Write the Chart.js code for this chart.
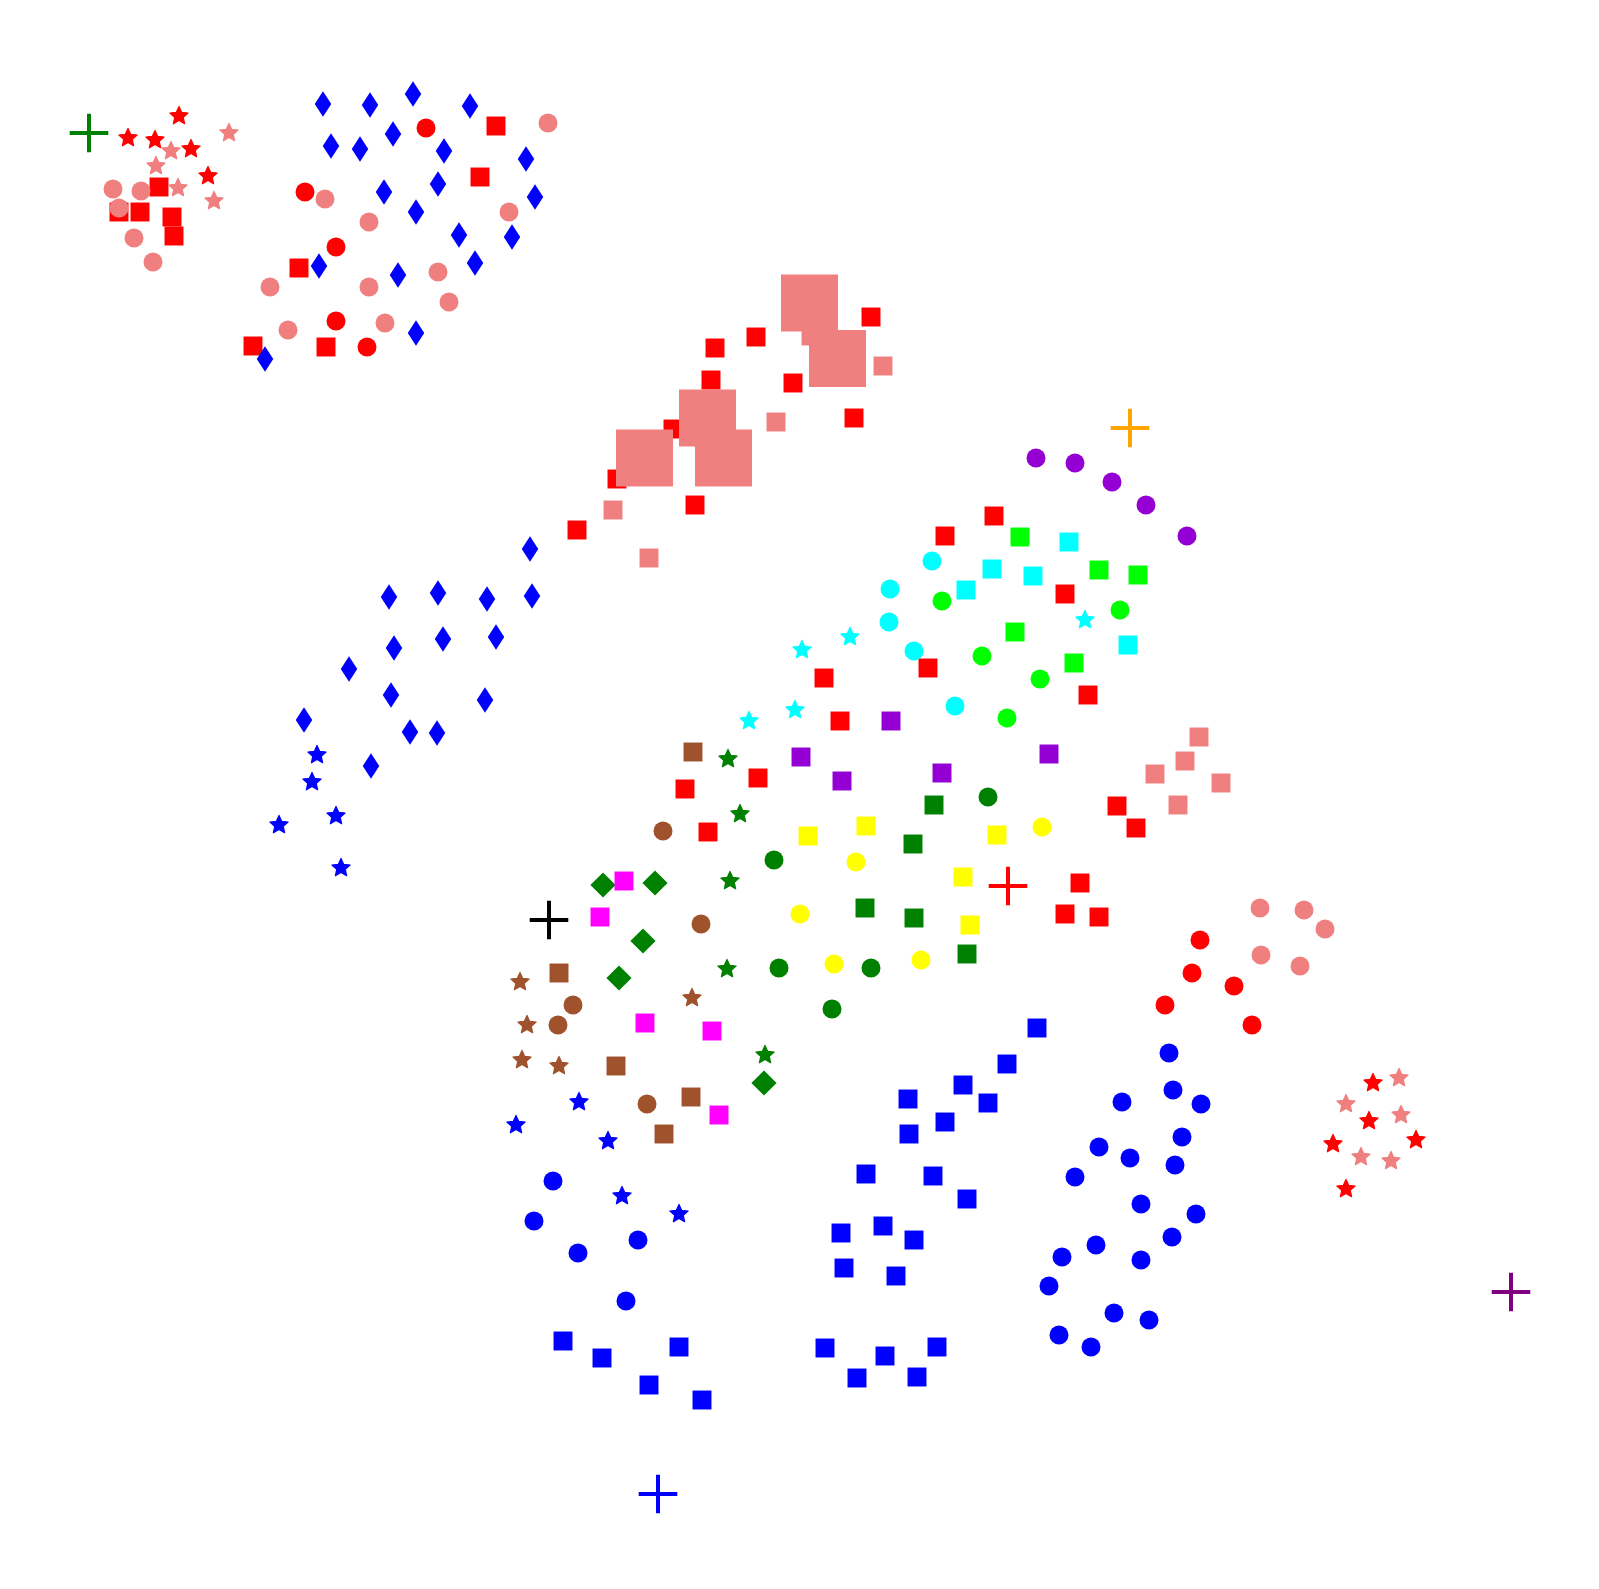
<!DOCTYPE html>
<html><head><meta charset="utf-8">
<script src="https://cdn.jsdelivr.net/npm/chart.js@4.4.1/dist/chart.umd.min.js"></script>
<style>html,body{margin:0;padding:0;background:#fff}#wrap{width:1599px;height:1589px;position:relative}</style>
</head><body><div id="wrap"><canvas id="c"></canvas></div>
<script>
// ---- Data (x, y in the plot's own units; y grows downward) ----
const redStars = [[128,138],[155,140],[179,116],[191,149],[208,176],[1373,1083],[1369,1121],[1333,1144],[1416,1140],[1346,1189]];
const coralStars = [[229,133],[171,151],[156,166],[178,188],[214,201],[1399,1078],[1346,1104],[1401,1115],[1361,1157],[1391,1161]];
const redCircles = [[426,128],[305,192],[336,247],[336,321],[367,347],[1200,940],[1192,973],[1234,986],[1165,1005],[1252,1025]];
const coralCircles = [[113,189],[141,191],[119,208],[134,238],[153,262],[548,123],[325,199],[369,222],[509,212],[270,287],[369,287],[438,272],[449,302],[288,330],[385,323],[1260,908],[1304,910],[1325,929],[1261,955],[1300,966]];
const redSquares = [[119,212],[140,212],[159,187],[172,217],[174,236],[496,126],[480,177],[299,268],[253,346],[326,347],
  [715,348],[756,337],[871,317],[711,380],[793,383],[854,418],[673,429],[617,479],[695,505],[577,530],[945,536],
  [994,516],[1065,594],[824,678],[928,668],[840,721],[1088,695],[685,789],[758,778],[708,832],
  [1117,806],[1136,828],[1080,883],[1065,914],[1099,917]];
const coralSquares = [[883,366],[776,422],[613,510],[649,558],[811,336],[1199,737],[1185,761],[1155,774],[1221,783],[1178,805]];
const coralBigSquares = [[809.5,303],[837.5,358.5],[707.5,418],[644.5,458],[723.5,458]];
const blueDiamonds = [[323,104],[370,105],[413,94],[470,106],[331,146],[360,149],[393,134],[444,151],[526,159],[384,192],[438,184],[535,197],[416,212],[459,235],[512,237],[475,263],[319,266],[398,275],[416,333],[265,359],
  [530,549],[389,597],[438,593],[487,599],[532,596],[394,648],[443,639],[496,637],[349,669],[391,695],[485,700],[304,720],[410,732],[437,733],[371,766]];
const blueStars = [[317,755],[312,782],[336,816],[279,825],[341,868],[579,1102],[516,1125],[608,1141],[622,1196],[679,1214]];
const blueCircles = [[553,1181],[534,1221],[578,1253],[638,1240],[626,1301],
  [1169,1053],[1173,1090],[1201,1104],[1122,1102],[1182,1137],[1099,1147],[1130,1158],[1175,1165],[1075,1177],[1141,1204],[1196,1214],[1172,1237],[1096,1245],[1062,1257],[1141,1260],[1049,1286],[1114,1313],[1149,1320],[1059,1335],[1091,1347]];
const blueSquares = [[563,1341],[602,1358],[679,1347],[649,1385],[702,1400],
  [1037,1028],[1007,1064],[963,1085],[988,1103],[908,1099],[945,1122],[909,1134],[866,1174],[933,1176],[967,1199],[841,1233],[883,1226],[914,1240],[844,1268],[896,1276],[825,1348],[885,1356],[937,1347],[857,1378],[917,1377]];
const violetCircles = [[1036,458],[1075,463],[1112,482],[1146,505],[1187,536]];
const violetSquares = [[891,721],[801,757],[842,781],[942,773],[1049,754]];
const limeSquares = [[1020,537],[1099,570],[1138,575],[1015,632],[1074,663]];
const limeCircles = [[942,601],[1120,610],[982,656],[1040,679],[1007,718]];
const cyanSquares = [[1069,542],[992,569],[1033,576],[966,590],[1128,645]];
const cyanCircles = [[932,561],[890,589],[889,622],[914,651],[955,706]];
const cyanStars = [[1085,620],[850,637],[802,650],[795,710],[749,721]];
const greenStars = [[728,759],[740,814],[730,881],[727,969],[765,1055]];
const greenDiamonds = [[603,885],[655,883],[643,941],[619,978],[764,1083]];
const greenSquares = [[934,805],[913,844],[865,908],[914,918],[967,954]];
const greenCircles = [[774,860],[779,968],[832,1009],[988,797],[871,968]];
const yellowSquares = [[808,836],[866,826],[997,835],[963,877],[970,925]];
const yellowCircles = [[800,914],[834,964],[1042,827],[856,862],[921,960]];
const magentaSquares = [[624,881],[600,917],[645,1023],[712,1031],[719,1115]];
const siennaSquares = [[693,752],[559,973],[616,1066],[691,1097],[664,1134]];
const siennaCircles = [[663,831],[701,924],[573,1005],[558,1025],[647,1104]];
const siennaStars = [[520,982],[692,998],[527,1025],[522,1060],[559,1066]];
const plusMarkers = [[89,133],[1130,428],[549,920],[1008,886],[1511,1292],[658,1494]];
const plusColors = ['#008000','#FFA500','#000000','#FF0000','#800080','#0000FF'];

// ---- Marker images ----
function makeStar(color){
  const R=9.6, r=4.5, s=24, c=document.createElement('canvas');
  c.width=s;c.height=s;const g=c.getContext('2d');
  g.translate(s/2,s/2);g.beginPath();
  for(let k=0;k<10;k++){const a=-Math.PI/2+k*Math.PI/5;const rr=k%2?r:R;
    const px=Math.cos(a)*rr, py=Math.sin(a)*rr; k?g.lineTo(px,py):g.moveTo(px,py);}
  g.closePath();g.fillStyle=color;g.fill();g.lineJoin='round';g.lineWidth=1.2;g.strokeStyle=color;g.stroke();
  return c;
}
function makeThinDiamond(color){
  const w=16.5,h=25.5,c=document.createElement('canvas');
  c.width=20;c.height=28;const g=c.getContext('2d');
  g.translate(10,14);g.beginPath();g.moveTo(0,-h/2);g.lineTo(w/2,0);g.lineTo(0,h/2);g.lineTo(-w/2,0);g.closePath();
  g.fillStyle=color;g.fill();
  return c;
}

const datasets=[];
function add(points,color,style,radius){
  datasets.push({data:points.map(p=>({x:p[0],y:p[1]})),pointStyle:style,pointRadius:radius,
    pointBackgroundColor:color,pointBorderColor:color,pointBorderWidth:0,pointHoverRadius:radius});
}
const RED='#FF0000',CORAL='#F08080',BLUE='#0000FF';
add(redSquares,RED,'rect',13.4);
add(redCircles,RED,'circle',9.5);
add(redStars,RED,makeStar(RED),10);
add(coralSquares,CORAL,'rect',13.4);
add(coralBigSquares,CORAL,'rect',40.3);
add(coralCircles,CORAL,'circle',9.5);
add(coralStars,CORAL,makeStar(CORAL),10);
add(blueDiamonds,BLUE,makeThinDiamond(BLUE),12);
add(blueStars,BLUE,makeStar(BLUE),10);
add(blueCircles,BLUE,'circle',9.5);
add(blueSquares,BLUE,'rect',13.4);
add(violetCircles,'#9400D3','circle',9.5);
add(violetSquares,'#9400D3','rect',13.4);
add(limeSquares,'#00FF00','rect',13.4);
add(limeCircles,'#00FF00','circle',9.5);
add(cyanSquares,'#00FFFF','rect',13.4);
add(cyanCircles,'#00FFFF','circle',9.5);
add(cyanStars,'#00FFFF',makeStar('#00FFFF'),10);
add(greenStars,'#008000',makeStar('#008000'),10);
add(greenDiamonds,'#008000','rectRot',12.6);
add(greenSquares,'#008000','rect',13.4);
add(greenCircles,'#008000','circle',9.5);
add(yellowSquares,'#FFFF00','rect',13.4);
add(yellowCircles,'#FFFF00','circle',9.5);
add(magentaSquares,'#FF00FF','rect',13.4);
add(siennaSquares,'#A0522D','rect',13.4);
add(siennaCircles,'#A0522D','circle',9.5);
add(siennaStars,'#A0522D',makeStar('#A0522D'),10);
plusMarkers.forEach((p,i)=>{
  datasets.push({data:[{x:p[0],y:p[1]}],pointStyle:'cross',pointRadius:19.3,pointHoverRadius:19.3,
    pointBorderColor:plusColors[i],pointBackgroundColor:plusColors[i],pointBorderWidth:4});
});
datasets.forEach((d,i)=>{d.order=-i;d.showLine=false;d.clip=false;});

new Chart(document.getElementById('c'),{
  type:'scatter',
  data:{datasets},
  options:{
    responsive:true,maintainAspectRatio:false,animation:false,devicePixelRatio:1,
    layout:{padding:0,autoPadding:false},
    plugins:{legend:{display:false},tooltip:{enabled:false}},
    scales:{
      x:{type:'linear',min:0,max:1599,display:false},
      y:{type:'linear',min:0,max:1589,reverse:true,display:false}
    }
  }
});
</script></body></html>
